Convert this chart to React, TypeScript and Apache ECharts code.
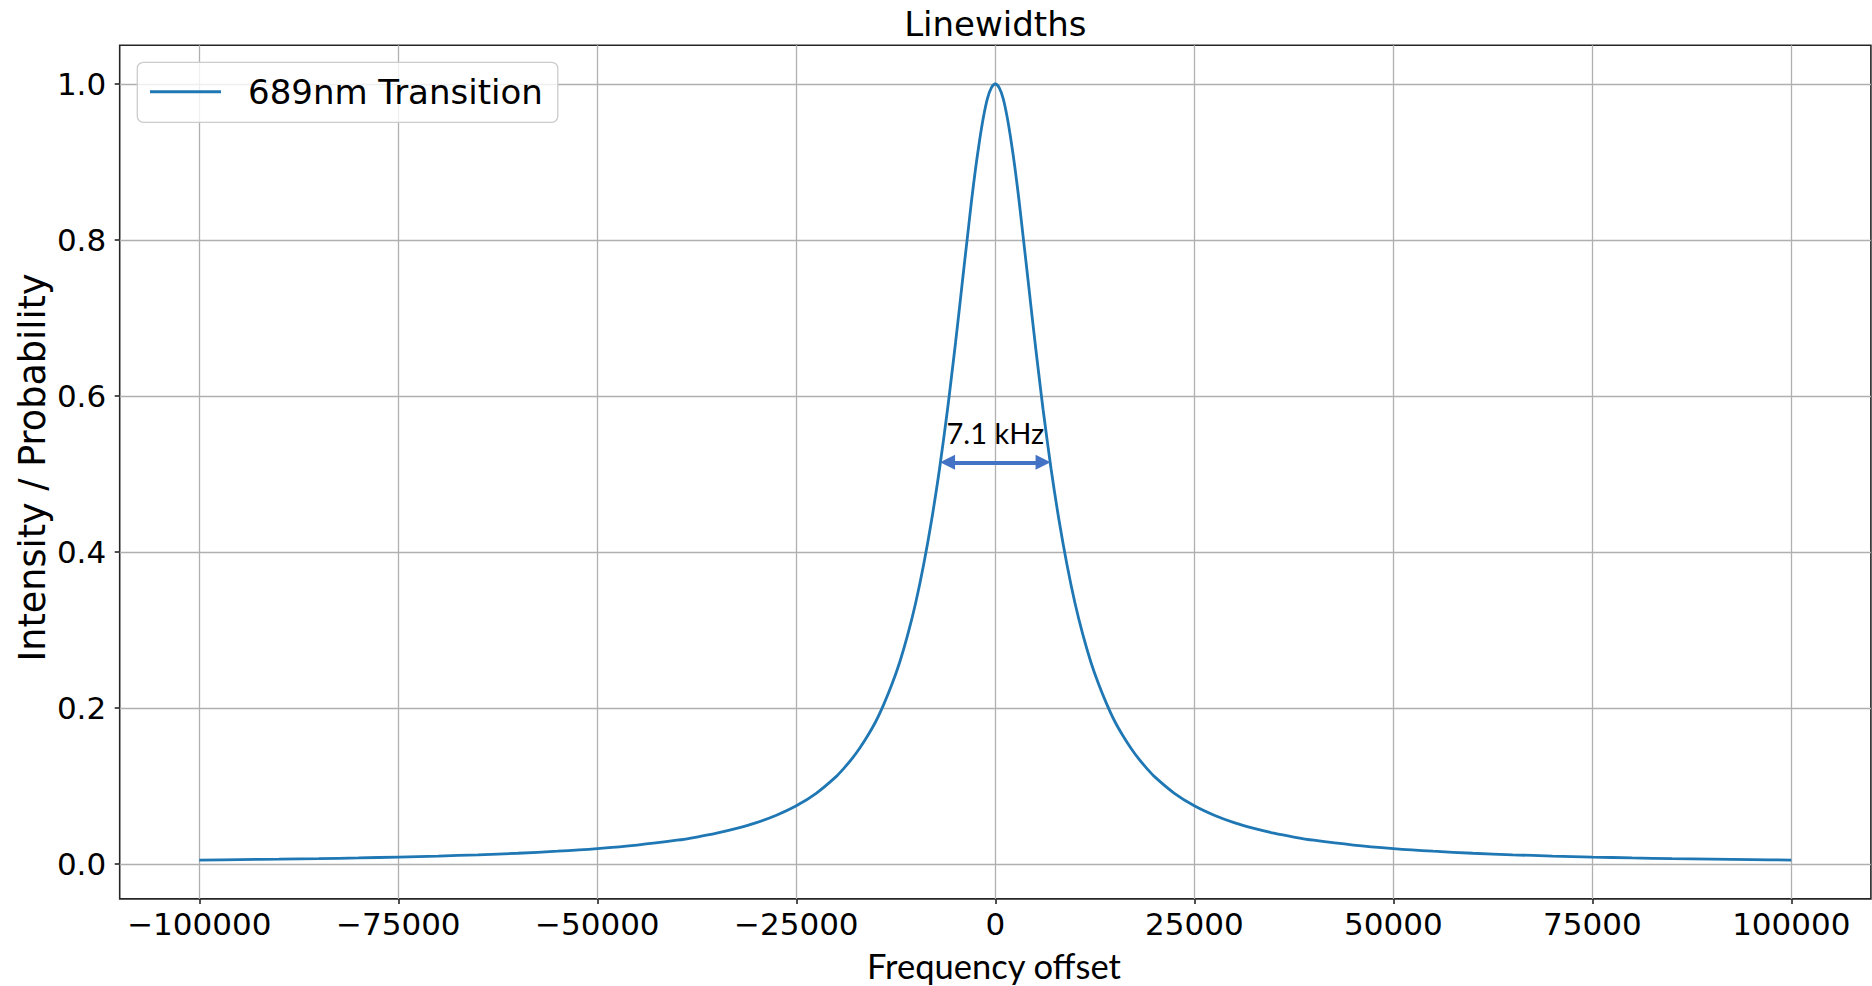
import React, { useEffect, useRef } from "react";
import * as echarts from "echarts";

// Frequency offset (Hz) and normalised intensity
const offsets = [
  -100000, -95000, -90000, -85000, -80000, -75000, -70000, -65000, -60000, -55000,
  -50000, -45000, -40000, -37500, -35000, -32500, -30000, -27500, -25000, -22500,
  -20000, -19000, -18000, -17000, -16000, -15000, -14000, -13000, -12000, -11000,
  -10000, -9000, -8000, -7000, -6000, -5500, -5000, -4500, -4000, -3500,
  -3000, -2500, -2000, -1500, -1000, -500, 0,
  500, 1000, 1500, 2000, 2500, 3000, 3500, 4000, 4500,
  5000, 5500, 6000, 7000, 8000, 9000, 10000, 11000, 12000, 13000,
  14000, 15000, 16000, 17000, 18000, 19000, 20000, 22500, 25000, 27500,
  30000, 32500, 35000, 37500, 40000, 45000, 50000, 55000, 60000, 65000,
  70000, 75000, 80000, 85000, 90000, 95000, 100000,
];
const intensity = [
  0.005, 0.0056, 0.0062, 0.0069, 0.0078, 0.0089, 0.0102, 0.0118, 0.0138, 0.0164,
  0.0198, 0.0243, 0.0305, 0.0346, 0.0395, 0.0456, 0.053, 0.0625, 0.0746, 0.0906,
  0.112, 0.123, 0.135, 0.149, 0.165, 0.183, 0.205, 0.23, 0.259, 0.294,
  0.335, 0.384, 0.441, 0.507, 0.583, 0.625, 0.668, 0.713, 0.759, 0.804,
  0.849, 0.89, 0.926, 0.957, 0.981, 0.995, 1.0,
  0.995, 0.981, 0.957, 0.926, 0.89, 0.849, 0.804, 0.759, 0.713,
  0.668, 0.625, 0.583, 0.507, 0.441, 0.384, 0.335, 0.294, 0.259, 0.23,
  0.205, 0.183, 0.165, 0.149, 0.135, 0.123, 0.112, 0.0906, 0.0746, 0.0625,
  0.053, 0.0456, 0.0395, 0.0346, 0.0305, 0.0243, 0.0198, 0.0164, 0.0138, 0.0118,
  0.0102, 0.0089, 0.0078, 0.0069, 0.0062, 0.0056, 0.005,
];

const xTicks = [-100000, -75000, -50000, -25000, 0, 25000, 50000, 75000, 100000];
const yTicks = [0, 0.2, 0.4, 0.6, 0.8, 1.0];
const xRange = [-110000, 110000];
const yRange = [-0.04475, 1.04975];

const seriesName = "689nm Transition";
const chartTitle = "Linewidths";
const xName = "Frequency offset";
const yName = "Intensity / Probability";

// FWHM annotation arrow (data coordinates of the arrow ends) and its label
const arrowX = [-6000, 6000];
const arrowY = 0.515;
const arrowLabel = "7.1 kHz";

const fmtX = (v: number) => (v < 0 ? "\u2212" + Math.abs(v) : String(v));
const fmtY = (v: number) => v.toFixed(1);

export default function App() {
  const ref = useRef<HTMLDivElement>(null);

  useEffect(() => {
    if (!ref.current) return;
    const chart = echarts.init(ref.current, null, { renderer: "svg" });
    const frame = "#262626";
    const gridColor = "#b0b0b0";

    chart.setOption({
      animation: false,
      backgroundColor: "#ffffff",
      grid: {
        left: 119.7,
        top: 45.2,
        width: 1751.2,
        height: 853.7,
        show: true,
        borderColor: frame,
        borderWidth: 1.6,
        backgroundColor: "transparent",
      },
      xAxis: {
        type: "value",
        min: xRange[0],
        max: xRange[1],
        axisLine: { show: false, onZero: false },
        axisTick: {
          show: true,
          length: 5,
          customValues: xTicks,
          lineStyle: { color: frame, width: 1.6 },
        },
        axisLabel: {
          customValues: xTicks,
          formatter: fmtX,
          fontFamily: "DejaVu Sans",
          fontSize: 31,
          color: "#000",
          margin: 9.5,
        },
        splitLine: { show: true, lineStyle: { color: gridColor, width: 1.3 } },
      },
      yAxis: {
        type: "value",
        min: yRange[0],
        max: yRange[1],
        axisLine: { show: false, onZero: false },
        axisTick: {
          show: true,
          length: 5,
          customValues: yTicks,
          lineStyle: { color: frame, width: 1.6 },
        },
        axisLabel: {
          customValues: yTicks,
          formatter: fmtY,
          fontFamily: "DejaVu Sans",
          fontSize: 31,
          color: "#000",
          margin: 13.5,
        },
        splitLine: { show: true, lineStyle: { color: gridColor, width: 1.3 } },
      },
      legend: {
        show: true,
        selectedMode: false,
        left: 137.3,
        top: 62.3,
        orient: "vertical",
        icon: "rect",
        itemWidth: 71,
        itemHeight: 3,
        padding: [12.5, 15, 13.5, 12.7],
        backgroundColor: "rgba(255,255,255,0.8)",
        borderColor: "#cccccc",
        borderWidth: 1.3,
        borderRadius: 6,
        textStyle: {
          fontFamily: "DejaVu Sans",
          fontSize: 34,
          color: "#000",
          padding: [0, 0, 0, 22],
        },
        data: [seriesName],
      },
      graphic: [
        {
          type: "text",
          x: 995.3,
          y: 24.2,
          style: {
            text: chartTitle,
            fontFamily: "DejaVu Sans",
            fontSize: 34,
            fill: "#000",
            textAlign: "center",
            textVerticalAlign: "middle",
            align: "center",
            verticalAlign: "middle",
          },
        },
        {
          type: "text",
          x: 32.8,
          y: 467.5,
          rotation: Math.PI / 2,
          style: {
            text: yName,
            fontFamily: "DejaVu Sans",
            fontSize: 36.6,
            fill: "#000",
            textAlign: "center",
            textVerticalAlign: "middle",
            align: "center",
            verticalAlign: "middle",
          },
        },
        {
          type: "text",
          x: 994,
          y: 965,
          style: {
            text: xName,
            fontFamily: "Lato",
            fontSize: 34.5,
            fill: "#000",
            textAlign: "center",
            textVerticalAlign: "middle",
            align: "center",
            verticalAlign: "middle",
          },
        },
      ],
      series: [
        {
          type: "line",
          name: seriesName,
          data: offsets.map((x, i) => [x, intensity[i]]),
          showSymbol: false,
          symbol: "none",
          smooth: 0.3,
          lineStyle: { color: "#1f77b4", width: 2.8 },
          itemStyle: { color: "#1f77b4" },
          z: 3,
          markLine: {
            silent: true,
            animation: false,
            symbol: ["triangle", "triangle"],
            symbolSize: [15, 15],
            lineStyle: { color: "#4472C4", width: 4, type: "solid" },
            label: {
              show: true,
              formatter: arrowLabel,
              position: "insideMiddleTop",
              fontFamily: "Lato",
              fontSize: 29,
              color: "#000",
              distance: 15,
            },
            data: [[{ coord: [arrowX[0], arrowY] }, { coord: [arrowX[1], arrowY] }]],
          },
        },
      ],
    });

    return () => chart.dispose();
  }, []);

  return (
    <div
      ref={ref}
      style={{ position: "fixed", left: 0, top: 0, width: 1872, height: 986, background: "#fff" }}
    />
  );
}
